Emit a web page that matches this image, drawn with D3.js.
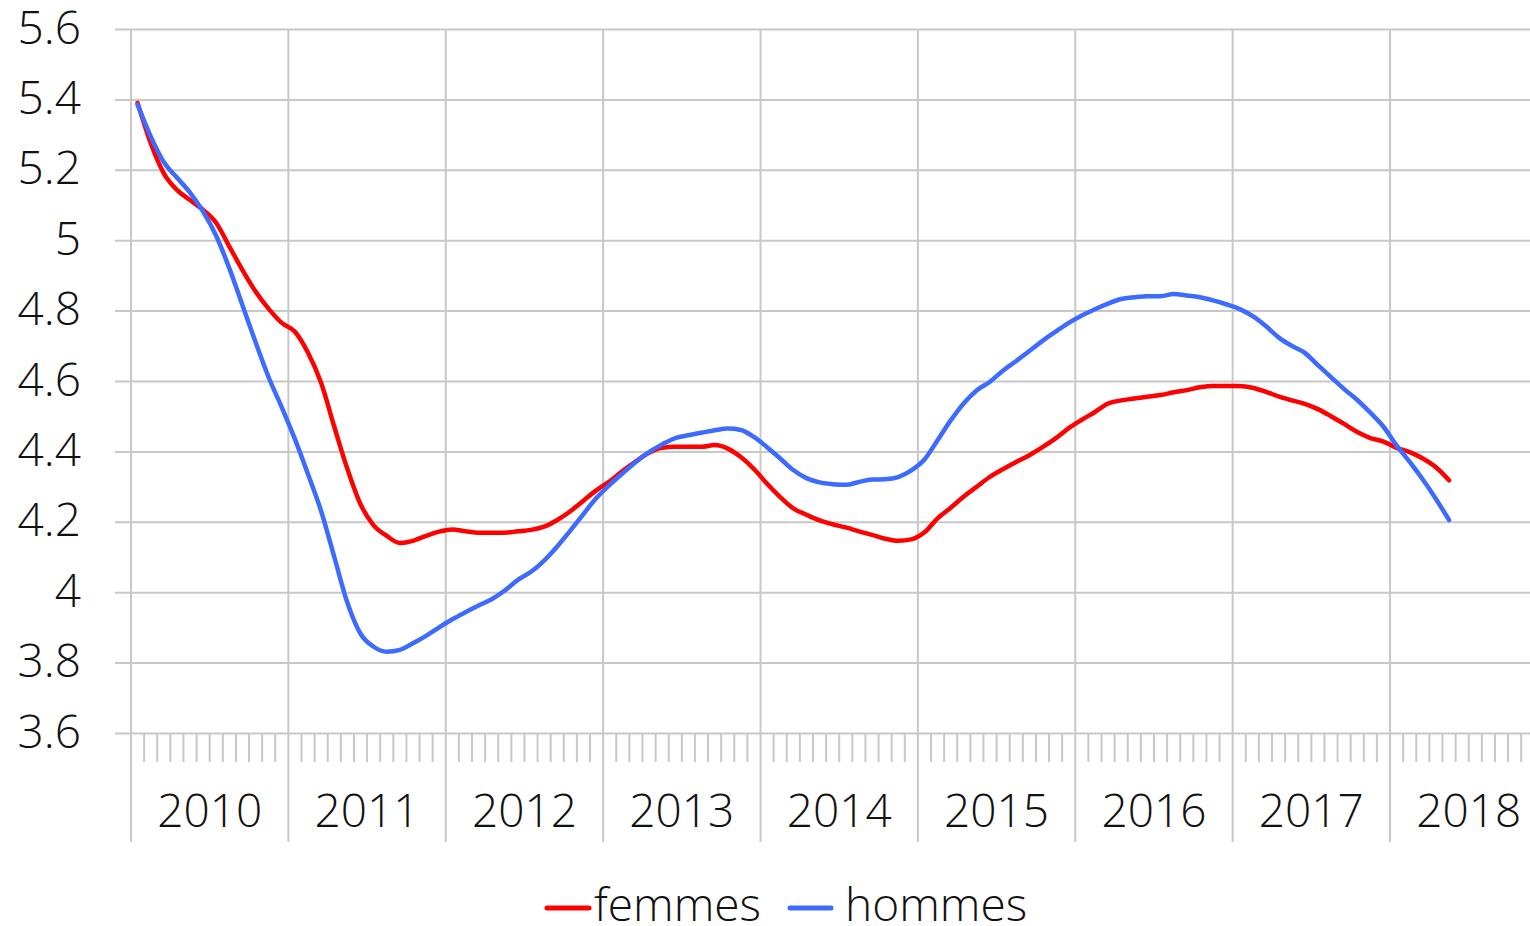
<!DOCTYPE html>
<html>
<head>
<meta charset="utf-8">
<script src="https://cdn.jsdelivr.net/npm/d3@7"></script>
<style>
  html, body { margin: 0; padding: 0; background: #fff; overflow: hidden; }
  svg { display: block; font-family: "Open Sans", "Noto Sans", sans-serif; font-weight: 300; }
</style>
</head>
<body>
<svg id="chart" width="1530" height="926"></svg>
<script>
// Years on the category axis (12 monthly slots each)
const years = ["2010", "2011", "2012", "2013", "2014", "2015", "2016", "2017", "2018"];

// Y axis ticks and their labels
const yTickValues = [5.6, 5.4, 5.2, 5.0, 4.8, 4.6, 4.4, 4.2, 4.0, 3.8, 3.6];
const yTickLabels = ["5.6", "5.4", "5.2", "5", "4.8", "4.6", "4.4", "4.2", "4", "3.8", "3.6"];

// Monthly series, January 2010 onward
const femmes = [
  5.39, 5.276, 5.19, 5.143, 5.114, 5.086, 5.049, 4.982, 4.915, 4.854, 4.805, 4.765,
  4.74, 4.68, 4.594, 4.47, 4.35, 4.25, 4.19, 4.16, 4.14, 4.146, 4.16, 4.172,
  4.178, 4.173, 4.169, 4.169, 4.169, 4.173, 4.177, 4.186, 4.205, 4.23, 4.26, 4.29,
  4.315, 4.345, 4.372, 4.396, 4.41, 4.413, 4.413, 4.413, 4.418, 4.408, 4.384, 4.35,
  4.308, 4.27, 4.238, 4.22, 4.204, 4.193, 4.184, 4.173, 4.163, 4.152, 4.146, 4.15,
  4.17, 4.21, 4.24, 4.272, 4.30, 4.328, 4.35, 4.37, 4.389, 4.412, 4.437, 4.466,
  4.49, 4.512, 4.536, 4.545, 4.55, 4.555, 4.56, 4.568, 4.574, 4.582, 4.586, 4.586,
  4.586, 4.581, 4.57, 4.556, 4.545, 4.535, 4.52, 4.50, 4.478, 4.455, 4.438, 4.428,
  4.41, 4.398, 4.38, 4.355, 4.318
];
const hommes = [
  5.385, 5.295, 5.222, 5.178, 5.135, 5.081, 5.012, 4.92, 4.815, 4.71, 4.61, 4.525,
  4.435, 4.335, 4.23, 4.10, 3.97, 3.882, 3.845, 3.831, 3.836, 3.855, 3.876, 3.90,
  3.923, 3.943, 3.962, 3.98, 4.005, 4.035, 4.058, 4.09, 4.13, 4.175, 4.222, 4.268,
  4.305, 4.338, 4.37, 4.398, 4.42, 4.438, 4.446, 4.453, 4.46, 4.465, 4.461, 4.441,
  4.412, 4.38, 4.347, 4.324, 4.312, 4.307, 4.305, 4.313, 4.32, 4.321, 4.327, 4.346,
  4.377, 4.432, 4.488, 4.537, 4.574, 4.598, 4.63, 4.657, 4.685, 4.714, 4.74, 4.765,
  4.786, 4.804, 4.82, 4.833, 4.838, 4.841, 4.841, 4.847, 4.843, 4.838, 4.829, 4.818,
  4.805, 4.785, 4.757, 4.724, 4.70, 4.68, 4.645, 4.611, 4.577, 4.546, 4.51, 4.47,
  4.417, 4.37, 4.32, 4.265, 4.205
];

const seriesNames = ["femmes", "hommes"];
const seriesColors = ["#ff0000", "#3d6bff"];

const svg = d3.select("#chart");
const gridColor = "#c8c8c8";

const plotLeft = 131, plotTop = 29, plotBottom = 733;
const monthWidth = 13.115;
const monthIdx = d3.range(years.length * 12);

const x = d3.scaleBand()
  .domain(monthIdx)
  .range([plotLeft, plotLeft + monthIdx.length * monthWidth])
  .paddingInner(0).paddingOuter(0);

const y = d3.scaleLinear().domain([3.6, 5.6]).range([plotBottom, plotTop]);

// Horizontal gridlines with value labels
const yAxis = d3.axisLeft(y)
  .tickValues(yTickValues)
  .tickFormat((d, i) => yTickLabels[i])
  .tickSize(-(1530 - 115))
  .tickPadding(34);

const gy = svg.append("g").attr("transform", "translate(115,0)").call(yAxis);
gy.select(".domain").remove();
gy.selectAll(".tick line").attr("stroke", gridColor).attr("stroke-width", 2);
gy.selectAll(".tick text")
  .attr("font-size", 46)
  .attr("fill", "#111")
  .attr("dy", null)
  .attr("y", 14);
gy.attr("font-family", null).attr("font-size", null);

// Month tick marks below the axis
svg.append("g").selectAll("line")
  .data(monthIdx.filter(i => i % 12 !== 0))
  .join("line")
  .attr("x1", d => x(d)).attr("x2", d => x(d))
  .attr("y1", plotBottom).attr("y2", 762)
  .attr("stroke", gridColor).attr("stroke-width", 2);

// Year separators
svg.append("g").selectAll("line")
  .data(years.map((yr, k) => k * 12))
  .join("line")
  .attr("x1", d => x(d)).attr("x2", d => x(d))
  .attr("y1", plotTop).attr("y2", 842)
  .attr("stroke", gridColor).attr("stroke-width", 2);

// Year labels centred in each year's span
svg.append("g").selectAll("text")
  .data(years)
  .join("text")
  .attr("x", (d, k) => (x(k * 12) + x(k * 12 + 11) + x.bandwidth()) / 2)
  .attr("y", 827)
  .attr("text-anchor", "middle")
  .attr("font-size", 46)
  .attr("fill", "#111")
  .text(d => d);

// Series lines
const line = d3.line()
  .x((d, i) => x(i) + x.bandwidth() / 2)
  .y(d => y(d))
  .curve(d3.curveMonotoneX);

[femmes, hommes].forEach((vals, k) => {
  svg.append("path")
    .datum(vals)
    .attr("fill", "none")
    .attr("stroke", seriesColors[k])
    .attr("stroke-width", 4.5)
    .attr("stroke-linejoin", "round")
    .attr("stroke-linecap", "round")
    .attr("d", line);
});

// Legend
const legendItems = [
  { name: seriesNames[0], color: seriesColors[0], x0: 547, x1: 589, tx: 594 },
  { name: seriesNames[1], color: seriesColors[1], x0: 790, x1: 831, tx: 845 }
];
const lg = svg.append("g");
legendItems.forEach(it => {
  lg.append("line")
    .attr("x1", it.x0).attr("x2", it.x1)
    .attr("y1", 908).attr("y2", 908)
    .attr("stroke", it.color).attr("stroke-width", 5)
    .attr("stroke-linecap", "round");
  lg.append("text")
    .attr("x", it.tx).attr("y", 921)
    .attr("font-size", 46)
    .attr("fill", "#111")
    .text(it.name);
});
</script>
</body>
</html>
